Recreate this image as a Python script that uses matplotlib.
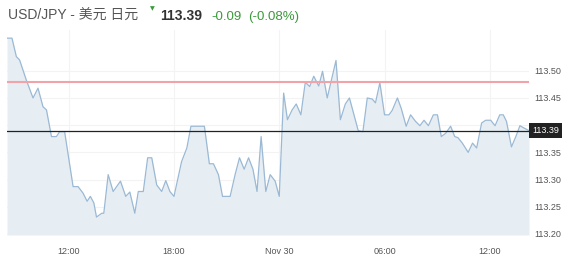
import matplotlib
matplotlib.use("Agg")
import matplotlib.pyplot as plt
import pandas as pd


# ==============================
# DADOS
# ==============================
HORARIOS = [
    "11-29 08:29", "11-29 08:46", "11-29 09:01", "11-29 09:12", "11-29 09:35",
    "11-29 09:58", "11-29 10:15", "11-29 10:32", "11-29 10:44", "11-29 11:01",
    "11-29 11:18", "11-29 11:29", "11-29 11:46", "11-29 12:15", "11-29 12:32",
    "11-29 12:49", "11-29 13:03", "11-29 13:14", "11-29 13:26", "11-29 13:35",
    "11-29 13:53", "11-29 14:00", "11-29 14:15", "11-29 14:32", "11-29 14:57",
    "11-29 15:15", "11-29 15:29", "11-29 15:46", "11-29 15:58", "11-29 16:15",
    "11-29 16:30", "11-29 16:44", "11-29 17:01", "11-29 17:18", "11-29 17:32",
    "11-29 17:46", "11-29 18:00", "11-29 18:26", "11-29 18:44", "11-29 18:58",
    "11-29 19:44", "11-29 20:01", "11-29 20:15", "11-29 20:32", "11-29 20:46",
    "11-29 21:12", "11-29 21:29", "11-29 21:44", "11-29 22:00", "11-29 22:15",
    "11-29 22:30", "11-29 22:44", "11-29 22:58", "11-29 23:14", "11-29 23:29",
    "11-29 23:46", "11-30 00:00", "11-30 00:15", "11-30 00:28", "11-30 00:44",
    "11-30 00:58", "11-30 01:14", "11-30 01:29", "11-30 01:44", "11-30 01:58",
    "11-30 02:15", "11-30 02:28", "11-30 02:44", "11-30 03:14", "11-30 03:29",
    "11-30 03:46", "11-30 04:00", "11-30 04:30", "11-30 04:46", "11-30 05:01",
    "11-30 05:18", "11-30 05:29", "11-30 05:44", "11-30 06:00", "11-30 06:15",
    "11-30 06:26", "11-30 06:44", "11-30 06:57", "11-30 07:14", "11-30 07:29",
    "11-30 07:46", "11-30 08:01", "11-30 08:15", "11-30 08:30", "11-30 08:47",
    "11-30 09:01", "11-30 09:14", "11-30 09:29", "11-30 09:46", "11-30 10:00",
    "11-30 10:11", "11-30 10:26", "11-30 10:46", "11-30 11:01", "11-30 11:15",
    "11-30 11:32", "11-30 11:46", "11-30 12:03", "11-30 12:18", "11-30 12:34",
    "11-30 12:46", "11-30 12:57", "11-30 13:14", "11-30 13:29", "11-30 13:43",
    "11-30 13:56", "11-30 14:14",
]

COTACOES = [
    113.560, 113.560, 113.526, 113.520, 113.483,
    113.450, 113.468, 113.434, 113.428, 113.379,
    113.379, 113.388, 113.388, 113.287, 113.287,
    113.275, 113.260, 113.269, 113.257, 113.231,
    113.238, 113.238, 113.309, 113.278, 113.297,
    113.269, 113.277, 113.238, 113.278, 113.278,
    113.340, 113.340, 113.290, 113.278, 113.298,
    113.278, 113.269, 113.333, 113.358, 113.398,
    113.398, 113.329, 113.329, 113.309, 113.269,
    113.269, 113.309, 113.340, 113.319, 113.340,
    113.319, 113.278, 113.379, 113.278, 113.309,
    113.297, 113.269, 113.459, 113.410, 113.428,
    113.439, 113.419, 113.479, 113.471, 113.490,
    113.472, 113.499, 113.450, 113.519, 113.410,
    113.439, 113.450, 113.390, 113.388, 113.450,
    113.448, 113.441, 113.478, 113.419, 113.419,
    113.427, 113.450, 113.431, 113.398, 113.419,
    113.407, 113.399, 113.409, 113.399, 113.419,
    113.419, 113.379, 113.385, 113.398, 113.379,
    113.377, 113.367, 113.350, 113.367, 113.358,
    113.404, 113.409, 113.409, 113.399, 113.419,
    113.419, 113.407, 113.360, 113.379, 113.399,
    113.395, 113.390,
]

FECHAMENTO_ANTERIOR = 113.48
ULTIMO = 113.39
VARIACAO = "-0.09"
VARIACAO_PCT = "(-0.08%)"
TITULO = "USD/JPY - 美元 日元"

Y_TICKS = [113.20, 113.25, 113.30, 113.35, 113.40, 113.45, 113.50]
X_TICKS = ["11-29 12:00", "11-29 18:00", "11-30 00:00", "11-30 06:00", "11-30 12:00"]
X_LABELS = ["12:00", "18:00", "Nov 30", "06:00", "12:00"]

Y_MIN = 113.198
Y_MAX = 113.575


def para_datas(lista):
    return pd.to_datetime(["2018-" + s for s in lista], format="%Y-%m-%d %H:%M")


def main():
    plt.rcParams["font.family"] = ["Liberation Sans", "Noto Sans CJK SC", "DejaVu Sans"]

    W, H = 577, 264
    fig = plt.figure(figsize=(W / 100, H / 100), dpi=100)
    ax = fig.add_axes([7 / W, 1 - 235 / H, 522 / W, 205 / H])

    tempos = para_datas(HORARIOS)

    ax.fill_between(tempos, COTACOES, Y_MIN, color="#e6eef4", lw=0, zorder=1)
    ax.plot(tempos, COTACOES, color="#9bb9d4", lw=0.9, zorder=2)

    ax.axhline(FECHAMENTO_ANTERIOR, color="#f2a3aa", lw=1.5, zorder=3)
    ax.axhline(ULTIMO, color="#222222", lw=0.9, zorder=3)

    ax.set_xlim(tempos[0], tempos[-1])
    ax.set_ylim(Y_MIN, Y_MAX)

    ax.set_yticks(Y_TICKS)
    ax.set_yticklabels([f"{v:.2f}" for v in Y_TICKS])
    ax.set_xticks(para_datas(X_TICKS))
    ax.set_xticklabels(X_LABELS)

    ax.yaxis.tick_right()
    ax.tick_params(axis="y", length=0, pad=4, labelsize=6.5, labelcolor="#555555")
    ax.tick_params(axis="x", length=0, pad=9, labelsize=6.5, labelcolor="#555555")

    ax.grid(True, color="#f3f3f3", lw=0.8, zorder=0)
    ax.set_axisbelow(True)
    for spine in ax.spines.values():
        spine.set_visible(False)

    # etiqueta do ultimo preco (cobre a etiqueta 113.40, como no original)
    ax.text(1 + 3 / 522, ULTIMO, f"{ULTIMO:.2f}", transform=ax.get_yaxis_transform(),
            ha="left", va="center", fontsize=6.5, color="white", zorder=5, clip_on=False,
            bbox=dict(boxstyle="square,pad=0.3", fc="#222222", ec="none"))

    # cabecalho
    fig.text(8 / W, 1 - 20 / H, TITULO, fontsize=10, color="#555555", va="baseline")
    fig.text(152 / W, 1 - 9 / H, "▼", fontsize=4.5, color="#3a9a3a", ha="center",
             va="center", family="DejaVu Sans")
    fig.text(160 / W, 1 - 20 / H, f"{ULTIMO:.2f}", fontsize=10, weight="bold",
             color="#333333", va="baseline")
    fig.text(211 / W, 1 - 20 / H, VARIACAO, fontsize=9.5, color="#3a9a3a", va="baseline")
    fig.text(248 / W, 1 - 20 / H, VARIACAO_PCT, fontsize=9.5, color="#3a9a3a", va="baseline")

    fig.savefig("out.png", dpi=100)
    plt.close(fig)


if __name__ == "__main__":
    main()
